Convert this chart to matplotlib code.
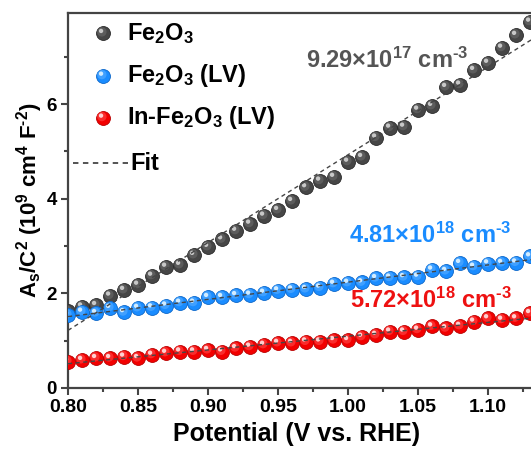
import numpy as np
import matplotlib
matplotlib.use("Agg")
import matplotlib.pyplot as plt
from matplotlib.transforms import offset_copy

plt.rcParams['font.family'] = ['Liberation Sans', 'DejaVu Sans']
plt.rcParams['font.weight'] = 'bold'
plt.rcParams['mathtext.fontset'] = 'custom'
plt.rcParams['mathtext.rm'] = 'Liberation Sans:bold'
plt.rcParams['mathtext.bf'] = 'Liberation Sans:bold'
plt.rcParams['mathtext.it'] = 'Liberation Sans:bold'
plt.rcParams['mathtext.default'] = 'rm'

potential = [0.80, 0.81, 0.82, 0.83, 0.84, 0.85, 0.86, 0.87, 0.88, 0.89,
             0.90, 0.91, 0.92, 0.93, 0.94, 0.95, 0.96, 0.97, 0.98, 0.99,
             1.00, 1.01, 1.02, 1.03, 1.04, 1.05, 1.06, 1.07, 1.08, 1.09,
             1.10, 1.11, 1.12, 1.13]
fe2o3 = [1.62, 1.72, 1.75, 1.95, 2.07, 2.18, 2.37, 2.56, 2.60, 2.81,
         2.98, 3.14, 3.32, 3.47, 3.64, 3.76, 3.95, 4.24, 4.38, 4.46,
         4.78, 4.88, 5.29, 5.50, 5.52, 5.88, 5.96, 6.36, 6.41, 6.72,
         6.87, 7.19, 7.46, 7.74]
fe2o3_lv = [1.54, 1.61, 1.58, 1.69, 1.60, 1.69, 1.70, 1.74, 1.80, 1.80,
            1.92, 1.92, 1.96, 1.97, 2.01, 2.06, 2.08, 2.09, 2.12, 2.20,
            2.22, 2.23, 2.32, 2.33, 2.34, 2.35, 2.50, 2.47, 2.64, 2.56,
            2.63, 2.64, 2.65, 2.78]
in_fe2o3_lv = [0.56, 0.59, 0.63, 0.63, 0.66, 0.63, 0.70, 0.74, 0.77, 0.77,
               0.80, 0.77, 0.84, 0.87, 0.91, 0.95, 0.95, 0.98, 0.98, 1.01,
               1.01, 1.08, 1.12, 1.19, 1.19, 1.23, 1.30, 1.26, 1.31, 1.40,
               1.47, 1.44, 1.47, 1.58]

labels = ['Fe$_2$O$_3$', 'Fe$_2$O$_3$ (LV)', 'In-Fe$_2$O$_3$ (LV)']
annotations = ['9.29×10$^{17}$ cm$^{\u2010 3}$', '4.81×10$^{18}$ cm$^{\u2010 3}$',
               '5.72×10$^{18}$ cm$^{\u2010 3}$']
xticks = [0.80, 0.85, 0.90, 0.95, 1.00, 1.05, 1.10]
yticks = [0, 2, 4, 6]

styles = [
    dict(base='#464646', dark='#2a2a2a', mid='#6c6c6c', light='#c8c8c8', text='#555555'),
    dict(base='#1a8cff', dark='#0b66c9', mid='#5aaeff', light='#d2ecff', text='#1a8cff'),
    dict(base='#f20000', dark='#b80000', mid='#ff4a4a', light='#ffd0d0', text='#ee1111'),
]

fig = plt.figure(figsize=(5.31, 4.5), dpi=100)
ax = fig.add_axes([68 / 531, 1 - 388 / 450, 469 / 531, (388 - 13.3) / 450])


def balls(ax, x, y, st, s=100, transform=None, zorder=3):
    if transform is None:
        transform = ax.transData
    clip = transform is ax.transData
    ax.scatter(x, y, s=s, c=st['base'], edgecolors=st['dark'], linewidths=0.6,
               transform=transform, zorder=zorder, clip_on=clip)
    t1 = offset_copy(transform, fig=fig, x=-0.8, y=0.9, units='points')
    ax.scatter(x, y, s=s * 0.45, c=st['mid'], edgecolors='none', alpha=0.6,
               transform=t1, zorder=zorder, clip_on=clip)
    t2 = offset_copy(transform, fig=fig, x=-1.4, y=1.6, units='points')
    ax.scatter(x, y, s=s * 0.1, c=st['light'], edgecolors='none',
               transform=t2, zorder=zorder, clip_on=clip)


series = [fe2o3, fe2o3_lv, in_fe2o3_lv]
xs = np.array(potential)
for i, (ys, st) in enumerate(zip(series, styles)):
    balls(ax, xs, ys, st, zorder=3 + i)

for ys, st in zip(series, styles):
    k, b = np.polyfit(xs, ys, 1)
    xf = np.array([0.80, 1.135])
    ax.plot(xf, k * xf + b, ls=(0, (3, 2.5)), color='#454545', lw=1.0, zorder=10)

ax.set_xlim(0.80, 1.135)
ax.set_ylim(0, 7.92)
ax.set_xticks(xticks)
ax.set_xticklabels([f'{v:.2f}' for v in xticks])
ax.set_yticks(yticks)
ax.set_xticks(np.arange(0.825, 1.13, 0.05), minor=True)
ax.set_yticks([1, 3, 5, 7], minor=True)
ax.tick_params(axis='both', which='major', direction='out', length=5, width=1.5,
               color='#444444', labelsize=14, pad=3)
ax.tick_params(axis='y', which='major', labelsize=13.5)
ax.tick_params(axis='both', which='minor', direction='out', length=3, width=1.5,
               color='#444444')
for lab in ax.get_xticklabels() + ax.get_yticklabels():
    lab.set_fontweight('bold')
for sp in ax.spines.values():
    sp.set_linewidth(1.6)
    sp.set_color('#444444')

ax.set_xlabel('Potential (V vs. RHE)', fontsize=18, fontweight='bold')
ax.xaxis.set_label_coords((297 - 68) / 469, -0.09)
ax.set_ylabel('A$_s$/C$^2$ (10$^9$ cm$^4$ F$^{\u2010 2}$)', fontsize=16, fontweight='bold')
ax.yaxis.set_label_coords(-0.05, 0.5)

# legend (manual)
leg_rows = [0.947, 0.833, 0.721]
for lab, st, yy in zip(labels, styles, leg_rows):
    balls(ax, [0.0746], [yy], st, transform=ax.transAxes, zorder=12)
    ax.text(0.125, yy, lab, transform=ax.transAxes, fontsize=17, fontweight='bold',
            va='center', ha='left', zorder=12)
ax.plot([0.011, 0.128], [0.600, 0.600], transform=ax.transAxes, ls=(0, (3, 2.5)),
        color='#454545', lw=1.3, zorder=12)
ax.text(0.133, 0.600, 'Fit', transform=ax.transAxes, fontsize=17, fontweight='bold',
        va='center', ha='left', zorder=12)

# annotations
ann_pos = [(1.028, 6.93), (1.059, 3.23), (1.059, 1.86)]
for txt, st, (xa, ya) in zip(annotations, styles, ann_pos):
    ax.text(xa, ya, txt, fontsize=17, fontweight='bold', color=st['text'],
            ha='center', va='center', zorder=12)

fig.savefig('out.png', dpi=100)
